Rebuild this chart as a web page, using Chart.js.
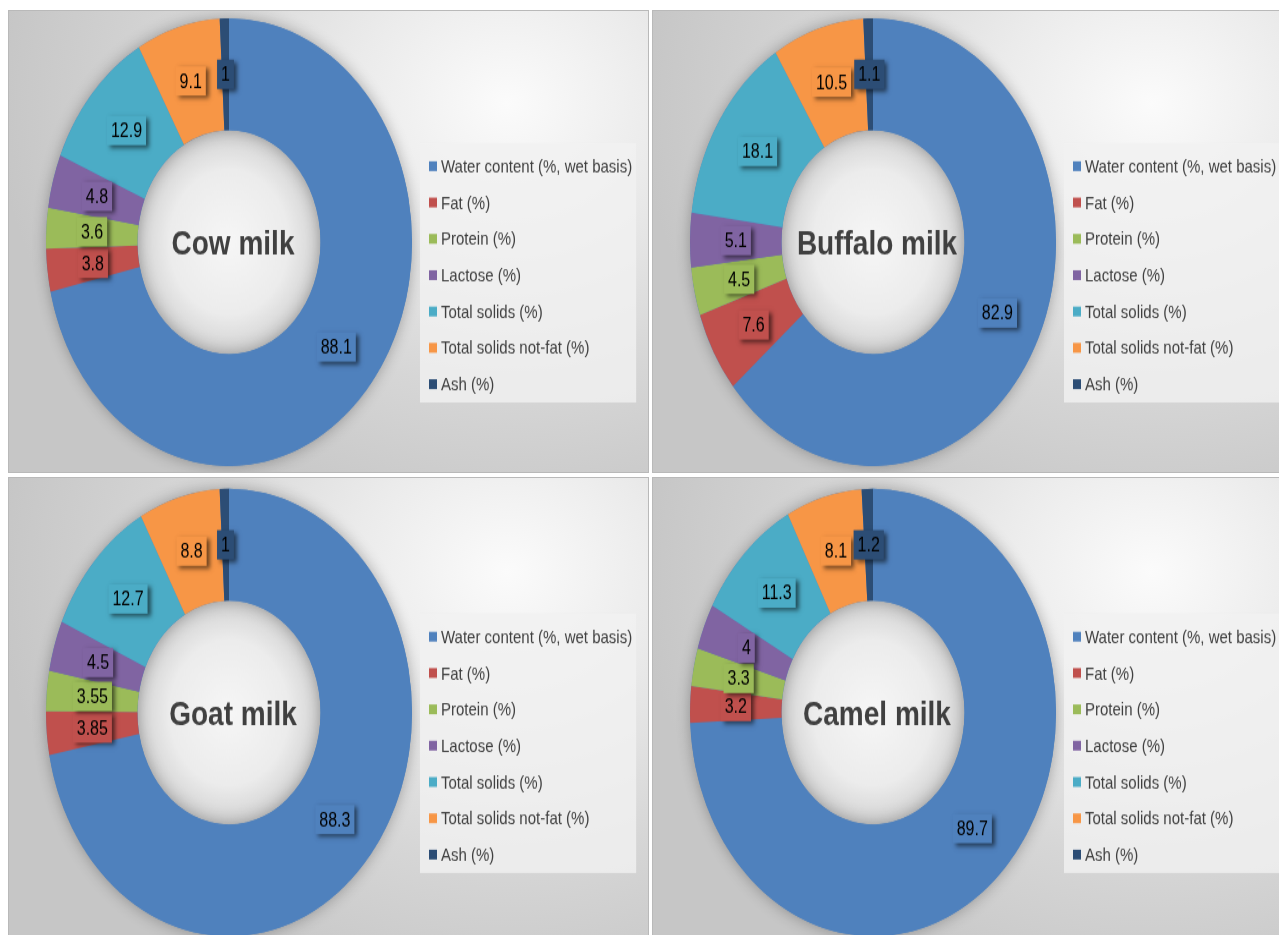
<!DOCTYPE html>
<html>
<head>
<meta charset="utf-8">
<title>Milk composition</title>
<script src="https://cdn.jsdelivr.net/npm/chart.js@4.4.1/dist/chart.umd.min.js"></script>
<style>
    html, body {
        margin: 0;
        padding: 0;
        background: #ffffff;
        width: 1279px;
        height: 935px;
        overflow: hidden;
    }
    .panel {
        position: absolute;
        width: 641px;
        box-sizing: border-box;
        border: 1px solid #b9b9b9;
        overflow: hidden;
        background: radial-gradient(ellipse 80% 95% at 78% 20%, #fbfbfb 0%, #ebebeb 30%, #d6d6d6 65%, #c6c6c6 100%);
    }
    .stretch {
        position: absolute;
        left: 0;
        top: 0;
        width: 639px;
        transform-origin: 0 0;
    }
</style>
</head>
<body>

<div class="panel" style="left:8px;top:10px;height:463px"><div class="stretch"><canvas id="chart0"></canvas></div></div>
<div class="panel" style="left:652px;top:10px;height:463px"><div class="stretch"><canvas id="chart1"></canvas></div></div>
<div class="panel" style="left:8px;top:477px;height:470px"><div class="stretch"><canvas id="chart2"></canvas></div></div>
<div class="panel" style="left:652px;top:477px;height:470px"><div class="stretch"><canvas id="chart3"></canvas></div></div>

<script>
// Chart data
const categories = [
    'Water content (%, wet basis)',
    'Fat (%)',
    'Protein (%)',
    'Lactose (%)',
    'Total solids (%)',
    'Total solids not-fat (%)',
    'Ash (%)'
];
const milkTypes = ['Cow milk', 'Buffalo milk', 'Goat milk', 'Camel milk'];
const cowValues = [88.1, 3.8, 3.6, 4.8, 12.9, 9.1, 1];
const buffaloValues = [82.9, 7.6, 4.5, 5.1, 18.1, 10.5, 1.1];
const goatValues = [88.3, 3.85, 3.55, 4.5, 12.7, 8.8, 1];
const camelValues = [89.7, 3.2, 3.3, 4, 11.3, 8.1, 1.2];
const sliceColors = ['#4F81BD', '#C0504D', '#9BBB59', '#8064A2', '#4BACC6', '#F79646', '#2C4D75'];

// The source picture is stretched vertically, so each panel is too
const STRETCH = 1.22;
const RING_RADIUS = 183;
const FONT = '"Liberation Sans", Arial, sans-serif';

/**
 * Hole shading, ring shadow, boxed value labels, centre text and legend
 */
const milkDecor = {
    id: 'milkDecor',
    beforeDatasetsDraw(chart) {
        const arc = chart.getDatasetMeta(0).data[0];
        if (!arc) return;
        const p = arc.getProps(['x', 'y', 'innerRadius', 'outerRadius'], true);
        const ctx = chart.ctx;

        // light hole
        ctx.save();
        const g = ctx.createRadialGradient(p.x, p.y, 0, p.x, p.y, p.innerRadius);
        g.addColorStop(0, '#f6f6f6');
        g.addColorStop(0.65, '#ececec');
        g.addColorStop(1, '#d2d2d2');
        ctx.fillStyle = g;
        ctx.beginPath();
        ctx.arc(p.x, p.y, p.innerRadius, 0, Math.PI * 2);
        ctx.fill();
        ctx.restore();

        // soft shadow under the whole ring
        ctx.save();
        ctx.shadowColor = 'rgba(0,0,0,0.3)';
        ctx.shadowBlur = 14;
        ctx.fillStyle = sliceColors[0];
        ctx.beginPath();
        ctx.arc(p.x, p.y, p.outerRadius, 0, Math.PI * 2);
        ctx.arc(p.x, p.y, p.innerRadius, 0, Math.PI * 2, true);
        ctx.fill();
        ctx.restore();
    },
    afterDatasetsDraw(chart, args, opts) {
        const ctx = chart.ctx;
        const meta = chart.getDatasetMeta(0);
        const values = chart.data.datasets[0].data;
        const colors = chart.data.datasets[0].backgroundColor;

        // value labels in little shadowed boxes, centred in each slice
        ctx.save();
        ctx.font = '16px ' + FONT;
        ctx.textAlign = 'center';
        ctx.textBaseline = 'middle';
        meta.data.forEach((arc, i) => {
            const pos = arc.tooltipPosition();
            const text = String(values[i]);
            const w = ctx.measureText(text).width + 8;
            const h = 24;

            ctx.shadowColor = 'rgba(0,0,0,0.55)';
            ctx.shadowBlur = 4;
            ctx.shadowOffsetX = 3;
            ctx.shadowOffsetY = 2;
            ctx.fillStyle = colors[i];
            ctx.fillRect(pos.x - w / 2, pos.y - h / 2, w, h);
            ctx.shadowColor = 'transparent';
            ctx.fillStyle = '#000000';
            ctx.fillText(text, pos.x, pos.y + 1);
        });
        ctx.restore();

        // centre title
        const c = meta.data[0];
        ctx.save();
        ctx.font = 'bold 28px ' + FONT;
        ctx.fillStyle = '#404040';
        ctx.textAlign = 'center';
        ctx.textBaseline = 'middle';
        ctx.fillText(opts.text, c.x + 4, c.y + 2);
        ctx.restore();
    },
    afterDraw(chart) {
        const ctx = chart.ctx;
        const labels = chart.data.labels;
        const colors = chart.data.datasets[0].backgroundColor;
        const rowGap = 29.7;

        ctx.save();
        ctx.font = '15px ' + FONT;
        const textW = Math.max(...labels.map(t => ctx.measureText(t).width));
        const left = chart.chartArea.right + 8;
        const boxW = 21 + textW + 4;
        const boxH = 19 + rowGap * (labels.length - 1) + 15;
        const top = chart.height / 2 + 25 - boxH / 2;

        ctx.fillStyle = 'rgba(241,241,241,0.8)';
        ctx.fillRect(left, top, boxW, boxH);

        ctx.textAlign = 'left';
        ctx.textBaseline = 'middle';
        labels.forEach((t, i) => {
            const cy = top + 19 + i * rowGap;
            ctx.fillStyle = colors[i];
            ctx.fillRect(left + 9, cy - 4, 8, 8);
            ctx.fillStyle = '#404040';
            ctx.fillText(t, left + 21, cy + 1);
        });
        ctx.restore();
    }
};

function buildChart(canvasId, values, title) {
    const canvas = document.getElementById(canvasId);
    const holder = canvas.parentElement;
    const panelH = holder.parentElement.clientHeight;
    const innerH = panelH / STRETCH;
    holder.style.height = innerH + 'px';
    holder.style.transform = 'scaleY(' + STRETCH + ')';

    const padV = (innerH - RING_RADIUS * 2) / 2;

    new Chart(canvas.getContext('2d'), {
        type: 'doughnut',
        data: {
            labels: categories,
            datasets: [{
                data: values,
                backgroundColor: sliceColors,
                borderWidth: 0
            }]
        },
        options: {
            responsive: true,
            maintainAspectRatio: false,
            animation: false,
            cutout: '50%',
            layout: { padding: { left: 37, right: 236, top: padV, bottom: padV } },
            plugins: {
                legend: { display: false },
                tooltip: { enabled: false },
                milkDecor: { text: title }
            }
        },
        plugins: [milkDecor]
    });
}

buildChart('chart0', cowValues, milkTypes[0]);
buildChart('chart1', buffaloValues, milkTypes[1]);
buildChart('chart2', goatValues, milkTypes[2]);
buildChart('chart3', camelValues, milkTypes[3]);
</script>
</body>
</html>
